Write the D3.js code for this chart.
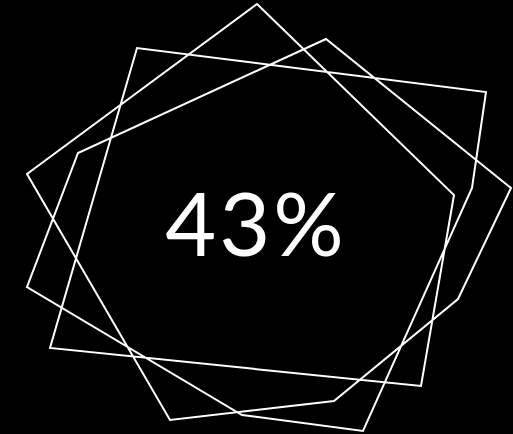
<!DOCTYPE html>
<html>
<head>
<meta charset="utf-8">
<script src="https://cdn.jsdelivr.net/npm/d3@7"></script>
<style>
  html, body { margin: 0; padding: 0; background: #000; }
  svg { display: block; }
</style>
</head>
<body>
<div id="chart"></div>
<script>
var svgWidth = 513;
var svgHeight = 434;

// outline vertices (one closed path)
var vertexX = [257, 454, 421, 50, 137, 486, 472, 363, 242, 27, 78, 326, 511, 458, 334, 170, 27];
var vertexY = [4, 195, 386, 348, 48, 92, 188, 431, 415, 287, 153, 39, 188, 299, 401, 420, 174];

var valueLabel = "43%";

var svg = d3.select("#chart")
  .append("svg")
  .attr("width", svgWidth)
  .attr("height", svgHeight);

svg.append("rect")
  .attr("width", svgWidth)
  .attr("height", svgHeight)
  .attr("fill", "#000");

var xScale = d3.scaleLinear().domain([0, 513]).range([0, svgWidth]);
var yScale = d3.scaleLinear().domain([0, 434]).range([0, svgHeight]);

var points = vertexX.map(function(x, i) { return [x, vertexY[i]]; });

var line = d3.line()
  .x(d => xScale(d[0]))
  .y(d => yScale(d[1]))
  .curve(d3.curveLinearClosed);

svg.append("path")
  .datum(points)
  .attr("d", line)
  .attr("fill", "none")
  .attr("stroke", "#fff")
  .attr("stroke-width", 2)
  .attr("stroke-linejoin", "miter");

svg.append("text")
  .attr("x", 256)
  .attr("y", 256)
  .attr("text-anchor", "middle")
  .attr("fill", "#fff")
  .attr("font-family", "Lato, sans-serif")
  .attr("font-size", 88)
  .attr("letter-spacing", 3)
  .text(valueLabel);
</script>
</body>
</html>
